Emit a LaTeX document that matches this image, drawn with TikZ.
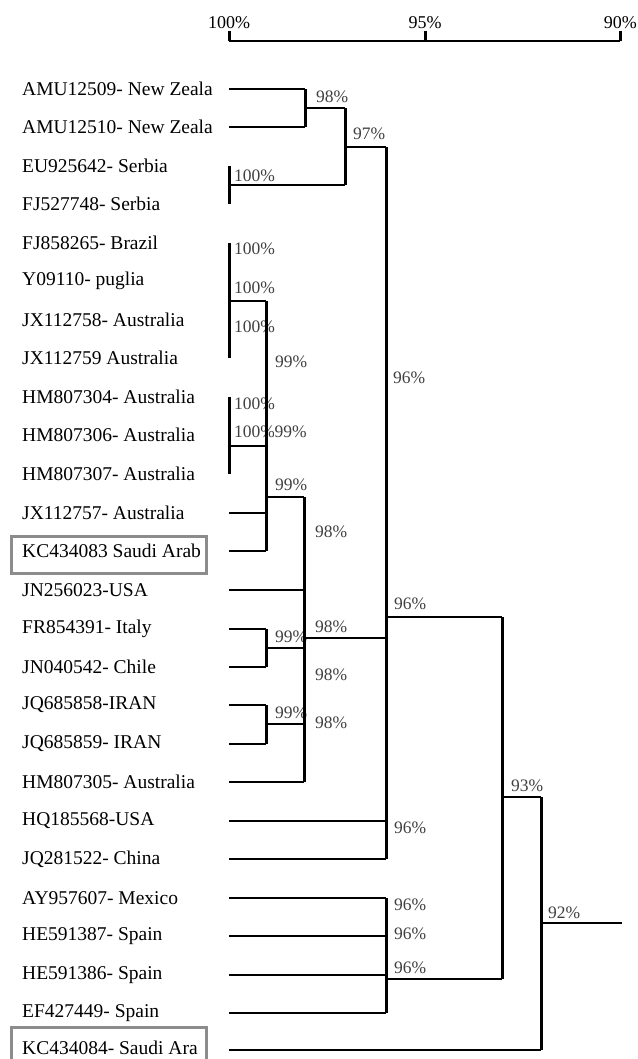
\documentclass[tikz,border=0pt]{standalone}
\usepackage{fontspec}
\setmainfont{Liberation Serif}
\begin{document}
\begin{tikzpicture}[x=1pt,y=-1pt,
  leaf/.style={anchor=west,inner sep=0pt,font=\fontsize{19.5}{20}\selectfont},
  pct/.style={anchor=west,inner sep=0pt,text=black!75,font=\fontsize{17.5}{18}\selectfont},
  pctw/.style={pct,fill=white,inner sep=0.5pt},
  scl/.style={inner sep=0pt,font=\fontsize{18}{19}\selectfont},
  hl/.style={line width=2.2pt},
  vl/.style={line width=3pt},
  hbox/.style={draw=black!45,line width=3pt}]
\useasboundingbox (0,0) rectangle (637,1059);
% scale
\node[scl] (s100) at (229,23) {100\%};
\node[scl] (s95) at (425,23) {95\%};
\node[scl,anchor=east] (s90) at (637,23) {90\%};
\coordinate (t100) at (229,31); \coordinate (b100) at (229,41);
\coordinate (t95) at (425,31); \coordinate (b95) at (425,41);
\coordinate (t90) at (620,31); \coordinate (b90) at (620,41);
\draw[vl] (t100) -- (b100); \draw[vl] (t95) -- (b95); \draw[vl] (t90) -- (b90);
\draw[hl] (b100) -- (b90);
% highlight boxes
\draw[hbox] (11,536) rectangle (206,573);
\draw[hbox] (11,1027) rectangle (206,1070);
% leaves
\foreach \i/\y in {1/89,2/127,3/166,4/204,5/243,6/281,7/320,8/358,9/397,10/435,11/474,12/513,13/551,14/590,15/629,16/667,17/705,18/744,19/782,20/821,21/859,22/898,23/936,24/975,25/1013,26/1050}
  \coordinate (L\i) at (229,\y);
\node[leaf] (n1) at (22,89) {AMU12509- New Zeala};
\node[leaf] (n2) at (22,127) {AMU12510- New Zeala};
\node[leaf] (n3) at (22,166) {EU925642- Serbia};
\node[leaf] (n4) at (22,204) {FJ527748- Serbia};
\node[leaf] (n5) at (22,243) {FJ858265- Brazil};
\node[leaf] (n6) at (22,281) {Y09110- puglia};
\node[leaf] (n7) at (22,320) {JX112758- Australia};
\node[leaf] (n8) at (22,358) {JX112759 Australia};
\node[leaf] (n9) at (22,397) {HM807304- Australia};
\node[leaf] (n10) at (22,435) {HM807306- Australia};
\node[leaf] (n11) at (22,474) {HM807307- Australia};
\node[leaf] (n12) at (22,513) {JX112757- Australia};
\node[leaf] (n13) at (22,551) {KC434083 Saudi Arab};
\node[leaf] (n14) at (22,590) {JN256023-USA};
\node[leaf] (n15) at (22,629) {FR854391- Italy};
\node[leaf] (n16) at (22,667) {JN040542- Chile};
\node[leaf] (n17) at (22,705) {JQ685858-IRAN};
\node[leaf] (n18) at (22,744) {JQ685859- IRAN};
\node[leaf] (n19) at (22,782) {HM807305- Australia};
\node[leaf] (n20) at (22,821) {HQ185568-USA};
\node[leaf] (n21) at (22,859) {JQ281522- China};
\node[leaf] (n22) at (22,898) {AY957607- Mexico};
\node[leaf] (n23) at (22,936) {HE591387- Spain};
\node[leaf] (n24) at (22,975) {HE591386- Spain};
\node[leaf] (n25) at (22,1013) {EF427449- Spain};
\node[leaf] (n26) at (22,1048) {KC434084- Saudi Ara};
% percentage labels
\node[pct] (p1) at (316,97) {98\%};
\node[pct] (p2) at (353,134) {97\%};
\node[pct] (p3) at (234,176) {100\%};
\node[pct] (p4) at (234,249) {100\%};
\node[pct] (p5) at (234,288) {100\%};
\node[pct] (p6) at (234,327) {100\%};
\node[pct] (p7) at (275,362) {99\%};
\node[pct] (p8) at (393,378) {96\%};
\node[pct] (p9) at (234,404) {100\%};
\node[pct] (p10) at (234,432) {100\%};
\node[pctw] (p11) at (274,432) {99\%};
\node[pct] (p12) at (275,485) {99\%};
\node[pct] (p13) at (315,532) {98\%};
\node[pct] (p14) at (394,604) {96\%};
\node[pct] (p15) at (315,627) {98\%};
\node[pct] (p16) at (275,637) {99\%};
\node[pct] (p17) at (315,675) {98\%};
\node[pct] (p18) at (275,713) {99\%};
\node[pct] (p19) at (315,723) {98\%};
\node[pct] (p20) at (511,786) {93\%};
\node[pct] (p21) at (394,828) {96\%};
\node[pct] (p22) at (394,905) {96\%};
\node[pct] (p23) at (394,934) {96\%};
\node[pct] (p24) at (394,968) {96\%};
\node[pct] (p25) at (548,913) {92\%};
% junction coordinates
\coordinate (a1) at (305,89); \coordinate (a2) at (305,127); \coordinate (a) at (305,108);
\coordinate (b1) at (345,108); \coordinate (b2) at (345,185); \coordinate (b) at (345,147);
\coordinate (sr) at (229,185);
\coordinate (c1) at (386,147); \coordinate (c2) at (386,859); \coordinate (c) at (386,617);
\coordinate (br) at (229,301); \coordinate (d1) at (266,301); \coordinate (d2) at (266,551);
\coordinate (hm) at (229,446); \coordinate (hmr) at (266,446);
\coordinate (hmtop) at (229,397);
\coordinate (d12) at (266,513); \coordinate (d) at (266,497);
\coordinate (e1) at (304,497); \coordinate (e2) at (304,782); \coordinate (e) at (304,638);
\coordinate (f1) at (266,629); \coordinate (f2) at (266,667); \coordinate (f) at (266,648); \coordinate (fe) at (304,648);
\coordinate (g1) at (266,705); \coordinate (g2) at (266,744); \coordinate (g) at (266,724); \coordinate (ge) at (304,724);
\coordinate (e14) at (304,590);
\coordinate (ce) at (386,638);
\coordinate (c20) at (386,821);
\coordinate (h1) at (386,898); \coordinate (h2) at (386,1013); \coordinate (h) at (386,979);
\coordinate (h23) at (386,936); \coordinate (h24) at (386,975);
\coordinate (k1) at (502,617); \coordinate (k2) at (502,979); \coordinate (k) at (502,797);
\coordinate (m1) at (541,797); \coordinate (m2) at (541,1050); \coordinate (m) at (541,923);
\coordinate (root) at (622,923);
% tree lines
\draw[hl] (L1) -- (a1); \draw[hl] (L2) -- (a2); \draw[vl] (a1) -- (a2);
\draw[hl] (a) -- (b1); \draw[vl] (b1) -- (b2); \draw[hl] (sr) -- (b2);
\draw[vl] (L3) -- (L4);
\draw[hl] (b) -- (c1); \draw[vl] (c1) -- (c2);
\draw[vl] (L5) -- (L8); \draw[hl] (br) -- (d1); \draw[vl] (d1) -- (d2);
\draw[vl] (hmtop) -- (L11); \draw[hl] (hm) -- (hmr);
\draw[hl] (L12) -- (d12); \draw[hl] (L13) -- (d2);
\draw[hl] (d) -- (e1); \draw[vl] (e1) -- (e2);
\draw[hl] (L14) -- (e14);
\draw[hl] (L15) -- (f1); \draw[hl] (L16) -- (f2); \draw[vl] (f1) -- (f2); \draw[hl] (f) -- (fe);
\draw[hl] (e) -- (ce);
\draw[hl] (L17) -- (g1); \draw[hl] (L18) -- (g2); \draw[vl] (g1) -- (g2); \draw[hl] (g) -- (ge);
\draw[hl] (L19) -- (e2);
\draw[hl] (L20) -- (c20); \draw[hl] (L21) -- (c2);
\draw[hl] (c) -- (k1); \draw[vl] (k1) -- (k2);
\draw[hl] (L22) -- (h1); \draw[hl] (L23) -- (h23); \draw[hl] (L24) -- (h24); \draw[hl] (L25) -- (h2);
\draw[vl] (h1) -- (h2); \draw[hl] (h) -- (k2);
\draw[hl] (k) -- (m1); \draw[vl] (m1) -- (m2); \draw[hl] (L26) -- (m2);
\draw[hl] (m) -- (root);
\end{tikzpicture}
\end{document}
